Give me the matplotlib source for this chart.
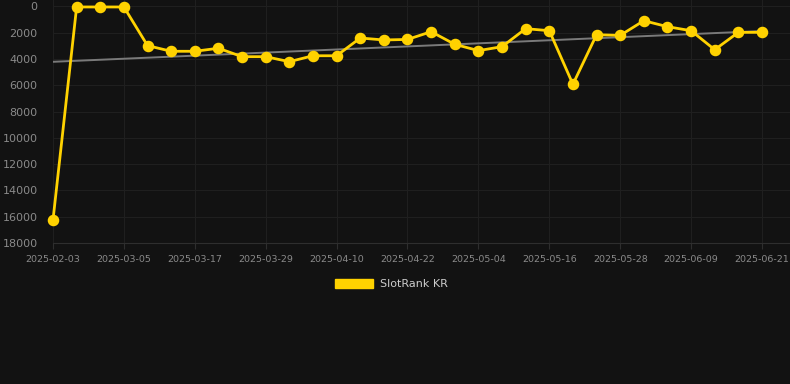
import matplotlib
matplotlib.use("Agg")
import matplotlib.pyplot as plt
from matplotlib.patches import Patch

# dates (categorical x axis)
dates = ["2025-02-03", "2025-02-13", "2025-02-23", "2025-03-05", "2025-03-09",
         "2025-03-13", "2025-03-17", "2025-03-21", "2025-03-25", "2025-03-29",
         "2025-04-02", "2025-04-06", "2025-04-10", "2025-04-14", "2025-04-18",
         "2025-04-22", "2025-04-26", "2025-04-30", "2025-05-04", "2025-05-08",
         "2025-05-12", "2025-05-16", "2025-05-20", "2025-05-24", "2025-05-28",
         "2025-06-01", "2025-06-05", "2025-06-09", "2025-06-13", "2025-06-17",
         "2025-06-21"]
# rank values
rank = [16250, 50, 50, 50, 2990, 3420, 3420, 3190, 3830, 3830,
        4210, 3760, 3760, 2410, 2560, 2520, 1930, 2890, 3370, 3070,
        1700, 1855, 5930, 2160, 2210, 1095, 1550, 1855, 3300, 1980,
        1980]
# trend line ends
trend_start = 4220
trend_end = 1880

yticks = [0, 2000, 4000, 6000, 8000, 10000, 12000, 14000, 16000, 18000]

bg = "#121212"
grid_c = "#1f1f1f"
yellow = "#FFD200"

fig = plt.figure(figsize=(7.9, 3.84), dpi=100, facecolor=bg)
ax = fig.add_axes([53/790, 141/384, 737/790, 243/384], facecolor=bg)

x = list(range(len(dates)))
ax.plot([x[0], x[-1]], [trend_start, trend_end], color="#7a7a7a", lw=1.4, zorder=2)
ax.plot(x, rank, color=yellow, lw=2.0, marker="o", ms=7.3, zorder=3, clip_on=False)

ax.set_xlim(0, len(dates) - 1 + 28/23.63)
ax.set_ylim(18000, -480)
ax.set_yticks(yticks)
ax.set_yticklabels([str(v) for v in yticks])
ax.set_xticks(x[::3])
ax.set_xticklabels(dates[::3])

ax.grid(True, color=grid_c, lw=0.8)
ax.set_axisbelow(True)
for s in ["top", "right", "left"]:
    ax.spines[s].set_visible(False)
ax.spines["bottom"].set_color("#2e2e2e")
ax.tick_params(axis="y", colors="#8a8a8a", labelsize=8, length=0, pad=11)
ax.tick_params(axis="x", colors="#2e2e2e", labelcolor="#8a8a8a", labelsize=6.8, length=4, pad=5)

fig.legend(handles=[Patch(facecolor=yellow, edgecolor=yellow)], labels=["SlotRank KR"],
           loc="center", bbox_to_anchor=(391/790, 1 - 284/384), frameon=False,
           handlelength=3.5, handleheight=0.9, fontsize=8, labelcolor="#cccccc",
           handletextpad=0.55)

fig.savefig("out.png", dpi=100, facecolor=bg)
